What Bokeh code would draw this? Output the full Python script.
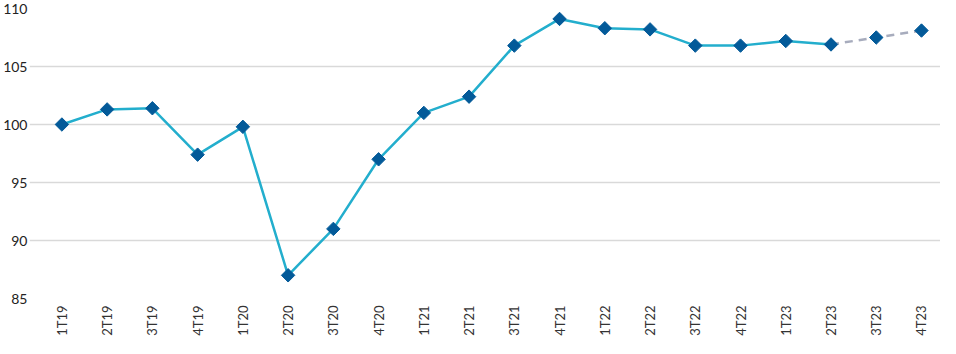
import numpy as np
from bokeh.plotting import figure
from bokeh.models import Range1d, FixedTicker
from bokeh.embed import file_html
from bokeh.resources import INLINE

quarters = ["1T19", "2T19", "3T19", "4T19", "1T20", "2T20", "3T20", "4T20",
            "1T21", "2T21", "3T21", "4T21", "1T22", "2T22", "3T22", "4T22",
            "1T23", "2T23", "3T23", "4T23"]
values = [100.0, 101.3, 101.4, 97.4, 99.8, 87.0, 91.0, 97.0,
          101.0, 102.4, 106.8, 109.1, 108.3, 108.2, 106.8, 106.8,
          107.2, 106.9, 107.5, 108.1]
n_actual = 18  # up to 2T23 solid, after that dashed forecast
y_ticks = [85, 90, 95, 100, 105, 110]

FONT = "Lato"

x = list(range(len(quarters)))

p = figure(width=940, height=338, output_backend="svg", toolbar_location=None,
           x_range=Range1d(-0.716, 19.42), y_range=Range1d(85, 110),
           min_border_left=24, min_border_top=8, min_border_right=0,
           min_border_bottom=30)
p.outline_line_color = None
p.background_fill_color = "white"
p.border_fill_color = "white"

p.line(x[:n_actual], values[:n_actual], line_color="#23AECD", line_width=2.5)
p.line(x[n_actual - 1:], values[n_actual - 1:], line_color="#A7ACBD",
       line_width=2.5, line_dash="8 6")
p.scatter(x, values, marker="square", angle=np.pi / 4, size=9.5,
          fill_color="#035A99", line_color="#035A99")

p.xaxis.ticker = FixedTicker(ticks=x)
p.xaxis.major_label_overrides = {i: q for i, q in enumerate(quarters)}
p.xaxis.major_label_orientation = np.pi / 2
p.yaxis.ticker = FixedTicker(ticks=y_ticks)

for ax in (p.xaxis[0], p.yaxis[0]):
    ax.axis_line_color = None
    ax.major_tick_line_color = None
    ax.minor_tick_line_color = None
    ax.major_tick_out = 0
    ax.major_tick_in = 0
    ax.axis_label_standoff = 0
    ax.major_label_text_font = FONT
    ax.major_label_text_color = "#333333"

p.xaxis.major_label_text_font_size = "13px"
p.xaxis.major_label_standoff = 7
p.yaxis.major_label_text_font_size = "14px"
p.yaxis.major_label_standoff = 2
p.yaxis.major_label_text_color = "#222222"

p.xgrid.grid_line_color = None
p.ygrid.grid_line_color = "#D9D9D9"
p.ygrid.grid_line_width = 1.5

open("out.html", "w").write(file_html(p, INLINE))
